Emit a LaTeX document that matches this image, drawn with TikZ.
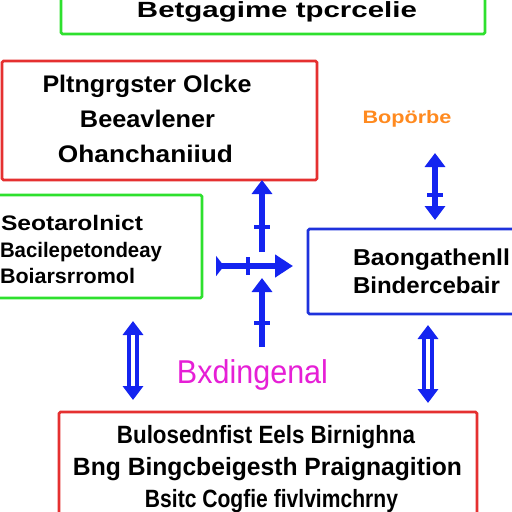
\documentclass[tikz,border=0pt]{standalone}
\usepackage{fontspec}
\setmainfont{Liberation Sans}
\usetikzlibrary{arrows.meta}
\definecolor{boxgreen}{HTML}{2EE02E}
\definecolor{boxred}{HTML}{E53030}
\definecolor{boxblue}{HTML}{1E32DC}
\definecolor{arrblue}{HTML}{1424F0}
\definecolor{txtorange}{HTML}{FF8A1F}
\definecolor{txtmagenta}{HTML}{E61FD6}
\newcommand\fw[2]{\resizebox{#1}{\height}{#2}}
\newcommand\fsz[1]{\fontsize{#1}{#1}\selectfont}
\begin{document}
\begin{tikzpicture}[x=1pt,y=-1pt,
  box/.style={draw, line width=2.6pt, rounded corners=1.5pt, inner sep=0pt, outer sep=0pt},
  lbl/.style={inner sep=0pt, outer sep=0pt, anchor=base},
  lblw/.style={inner sep=0pt, outer sep=0pt, anchor=base west},
  arr/.style={draw=arrblue, line width=6.5pt},
  hollow/.style={draw=arrblue, line width=12pt},
  tip/.style={-{Triangle[width=20pt,length=14pt]}},
  dtip/.style={{Triangle[width=20pt,length=14pt]}-{Triangle[width=20pt,length=14pt]}},
  tick/.style={draw=arrblue, line width=4.5pt}
]
\useasboundingbox (0,0) rectangle (512,512);
\clip (0,0) rectangle (512,512);
\fill[white] (0,0) rectangle (512,512);

% boxes
\node[box, draw=boxgreen, minimum width=424pt, minimum height=54pt] (top) at (273,7) {};
\node[box, draw=boxred, minimum width=315pt, minimum height=119pt] (red1) at (159.5,120.5) {};
\node[box, draw=boxgreen, minimum width=212pt, minimum height=103pt] (grn2) at (96,246.5) {};
\node[box, draw=boxblue, minimum width=212pt, minimum height=85pt] (blu) at (414,271.5) {};
\node[box, draw=boxred, minimum width=418pt, minimum height=118pt] (red2) at (268,471) {};

% texts
\node[lbl, font=\bfseries\fsz{22}] (t0) at (277,17) {\fw{280pt}{Betgagime tpcrcelie}};

\node[lbl, font=\bfseries\fsz{24}] (t1) at (147,92) {\fw{209pt}{Pltngrgster Olcke}};
\node[lbl, font=\bfseries\fsz{24}] (t2) at (147.5,127) {\fw{135pt}{Beeavlener}};
\node[lbl, font=\bfseries\fsz{24}] (t3) at (145.5,162) {\fw{175pt}{Ohanchaniiud}};

\node[lbl, font=\bfseries\fsz{18}, text=txtorange] (or) at (407,123) {\fw{89pt}{Bopörbe}};

\node[lblw, font=\bfseries\fsz{21}] (g1) at (1,230) {\fw{142pt}{Seotarolnict}};
\node[lblw, font=\bfseries\fsz{21}] (g2) at (0,257) {\fw{162pt}{Bacilepetondeay}};
\node[lblw, font=\bfseries\fsz{21}] (g3) at (0,283) {\fw{135pt}{Boiarsrromol}};

\node[lblw, font=\bfseries\fsz{23}] (b1) at (353,265) {\fw{157pt}{Baongathenll}};
\node[lblw, font=\bfseries\fsz{23}] (b2) at (353,293) {\fw{147pt}{Bindercebair}};

\node[lbl, font=\fsz{33}, text=txtmagenta] (mg) at (252.5,383) {\fw{151pt}{Bxdingenal}};

\node[lbl, font=\bfseries\fsz{25}] (r1) at (266,443) {\fw{298pt}{Bulosednfist Eels Birnighna}};
\node[lbl, font=\bfseries\fsz{25}] (r2) at (267.5,475) {\fw{389pt}{Bng Bingcbeigesth Praignagition}};
\node[lbl, font=\bfseries\fsz{25}] (r3) at (271.5,507) {\fw{253pt}{Bsitc Cogfie fivlvimchrny}};

% connector end points
\coordinate (u1) at (262,252);
\coordinate (h0) at (216,266);
\coordinate (h1) at (293,266);
\coordinate (l0) at (262,347);
\coordinate (l1) at (262,278);
\coordinate (a0) at (133,321);
\coordinate (a1) at (133,400);
\coordinate (b0) at (428,325);
\coordinate (b1e) at (428,403);
\coordinate (c0) at (435,153);
\coordinate (c1) at (435,220);

% central cross
\draw[arr, tip] (u1) -- (u1 |- red1.south);
\draw[tick] (254,227) -- (270,227);
\draw[arr, {Triangle[reversed,width=20pt,length=8pt]}-{Triangle[width=22pt,length=18pt]}] (h0) -- (h1);
\draw[tick] (248,257) -- (248,275);
\draw[arr, tip] (l0) -- (l1);
\draw[tick] (254,323) -- (270,323);

% double arrows
\draw[hollow, dtip] (a0) -- (a1);
\draw[white, line width=4pt, shorten <=14pt, shorten >=14pt] (a0) -- (a1);
\draw[hollow, dtip] (b0) -- (b1e);
\draw[white, line width=4pt, shorten <=14pt, shorten >=14pt] (b0) -- (b1e);
\draw[arr, dtip] (c0) -- (c1);
\draw[tick] (427,195) -- (443,195);
\end{tikzpicture}
\end{document}
